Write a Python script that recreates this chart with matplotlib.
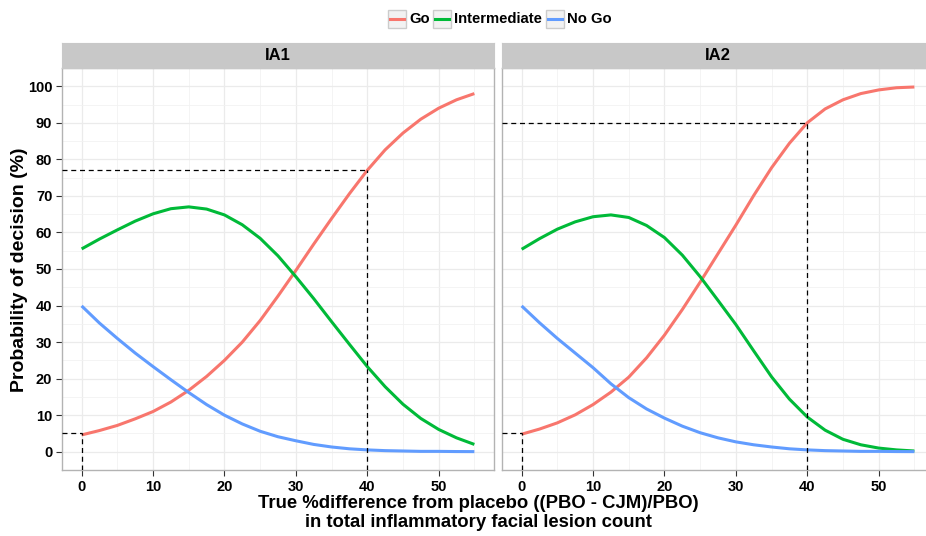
import matplotlib
matplotlib.use("Agg")
import matplotlib.pyplot as plt
from matplotlib.patches import Rectangle
from matplotlib.lines import Line2D

plt.rcParams['font.family'] = ['Liberation Sans', 'DejaVu Sans']

# true % difference from placebo
x_vals = [0, 2.5, 5, 7.5, 10, 12.5, 15, 17.5, 20, 22.5, 25, 27.5,
          30, 32.5, 35, 37.5, 40, 42.5, 45, 47.5, 50, 52.5, 55]

# IA1 probabilities (%)
ia1_go = [4.6, 5.8, 7.2, 9.0, 11.0, 13.6, 16.8, 20.6, 25.0, 30.0, 35.9, 42.6,
          49.6, 56.8, 63.8, 70.6, 77.0, 82.6, 87.2, 91.0, 94.0, 96.3, 98.0]
ia1_int = [55.5, 58.2, 60.7, 63.1, 65.1, 66.5, 67.0, 66.4, 64.8, 62.1, 58.4, 53.6,
           47.9, 41.9, 35.6, 29.4, 23.3, 17.8, 13.0, 9.1, 6.1, 3.8, 2.0]
ia1_nogo = [39.9, 35.2, 31.0, 27.0, 23.3, 19.7, 16.2, 12.9, 10.0, 7.6, 5.6, 4.1,
            3.0, 2.0, 1.3, 0.8, 0.5, 0.3, 0.2, 0.1, 0.1, 0.05, 0.03]

# IA2 probabilities (%)
ia2_go = [4.8, 6.2, 7.9, 10.1, 12.9, 16.3, 20.4, 25.7, 31.9, 38.9, 46.4, 54.2,
          62.0, 70.1, 77.7, 84.4, 90.0, 93.8, 96.3, 98.0, 99.0, 99.6, 99.8]
ia2_int = [55.4, 58.3, 60.9, 62.9, 64.3, 64.8, 64.1, 61.9, 58.6, 53.8, 47.9, 41.4,
           34.8, 27.6, 20.5, 14.4, 9.5, 5.9, 3.4, 1.9, 1.0, 0.5, 0.2]
ia2_nogo = [39.9, 35.3, 31.0, 27.0, 23.0, 18.6, 14.8, 11.7, 9.2, 7.0, 5.2, 3.8,
            2.7, 1.9, 1.3, 0.8, 0.5, 0.3, 0.2, 0.1, 0.1, 0.05, 0.03]

panels = ["IA1", "IA2"]
labels = ["Go", "Intermediate", "No Go"]
colors = ["#F8766D", "#00BA38", "#619CFF"]
# decision thresholds shown with dashed guides: (x, y)
guides = {"IA1": [(0, 5), (40, 77)], "IA2": [(0, 5), (40, 90)]}
series = {"IA1": [ia1_go, ia1_int, ia1_nogo], "IA2": [ia2_go, ia2_int, ia2_nogo]}

W, H = 926, 536
fig = plt.figure(figsize=(W / 100, H / 100), dpi=100)


def px_rect(left, top, right, bottom):
    return [left / W, 1 - bottom / H, (right - left) / W, (bottom - top) / H]


panel_px = {"IA1": (62, 494), "IA2": (502, 934)}
top, bottom = 68, 470
xmin, xmax = -2.75, 57.75
ymin, ymax = -5, 105

for name in panels:
    l, r = panel_px[name]
    ax = fig.add_axes(px_rect(l, top, r, bottom))
    ax.set_xlim(xmin, xmax)
    ax.set_ylim(ymin, ymax)
    ax.set_xticks(range(0, 51, 10))
    ax.set_xticks(range(5, 56, 10), minor=True)
    ax.set_yticks(range(0, 101, 10))
    ax.set_yticks(range(5, 106, 10), minor=True)
    ax.grid(which="major", color="#ebebeb", lw=0.9)
    ax.grid(which="minor", color="#f2f2f2", lw=0.6)
    ax.set_axisbelow(True)
    for s in ax.spines.values():
        s.set_color("#b3b3b3")
        s.set_linewidth(1.0)
    ax.tick_params(which="major", length=4, width=0.8, color="#333333",
                   labelsize=10.5, labelcolor="black", pad=3)
    ax.tick_params(which="minor", length=0)
    for lab in ax.get_xticklabels() + ax.get_yticklabels():
        lab.set_fontweight("bold")
    if name != "IA1":
        ax.tick_params(axis="y", which="both", left=False, labelleft=False)

    for vals, c in zip(series[name], colors):
        ax.plot(x_vals, vals, color=c, lw=2.2, solid_joinstyle="round",
                solid_capstyle="butt", zorder=3)

    for gx, gy in guides[name]:
        ax.plot([xmin, gx], [gy, gy], color="black", lw=0.9, ls=(0, (4, 3)), zorder=4)
        ax.plot([gx, gx], [ymin, gy], color="black", lw=0.9, ls=(0, (4, 3)), zorder=4)

    # facet strip
    sax = fig.add_axes(px_rect(l, 43, r, top))
    sax.set_facecolor("#c8c8c8")
    sax.set_xticks([])
    sax.set_yticks([])
    for s in sax.spines.values():
        s.set_color("#c8c8c8")
    sax.text(0.5, 0.5, name, ha="center", va="center", fontsize=12,
             fontweight="bold", transform=sax.transAxes)

fig.text(20 / W, 1 - 270 / H, "Probability of decision (%)", rotation=90,
         ha="center", va="center", fontsize=14, fontweight="bold")
fig.text(478 / W, 1 - 513 / H,
         "True %difference from placebo ((PBO - CJM)/PBO)\nin total inflammatory facial lesion count",
         ha="center", va="center", fontsize=13.3, fontweight="bold", linespacing=1.08)

# legend drawn as ggplot-style keys
key_left = [388, 433, 546]
for lab, c, kl in zip(labels, colors, key_left):
    fig.patches.append(Rectangle((kl / W, 1 - 28 / H), 18 / W, 18 / H,
                                 transform=fig.transFigure, facecolor="#f2f2f2",
                                 edgecolor="#cccccc", lw=1.0))
    fig.lines.append(Line2D([(kl + 2) / W, (kl + 16) / W], [1 - 19 / H, 1 - 19 / H],
                            transform=fig.transFigure, color=c, lw=2.2))
    fig.text((kl + 21) / W, 1 - 19 / H, lab, ha="left", va="center",
             fontsize=10.7, fontweight="bold")

fig.savefig("out.png", dpi=100)
